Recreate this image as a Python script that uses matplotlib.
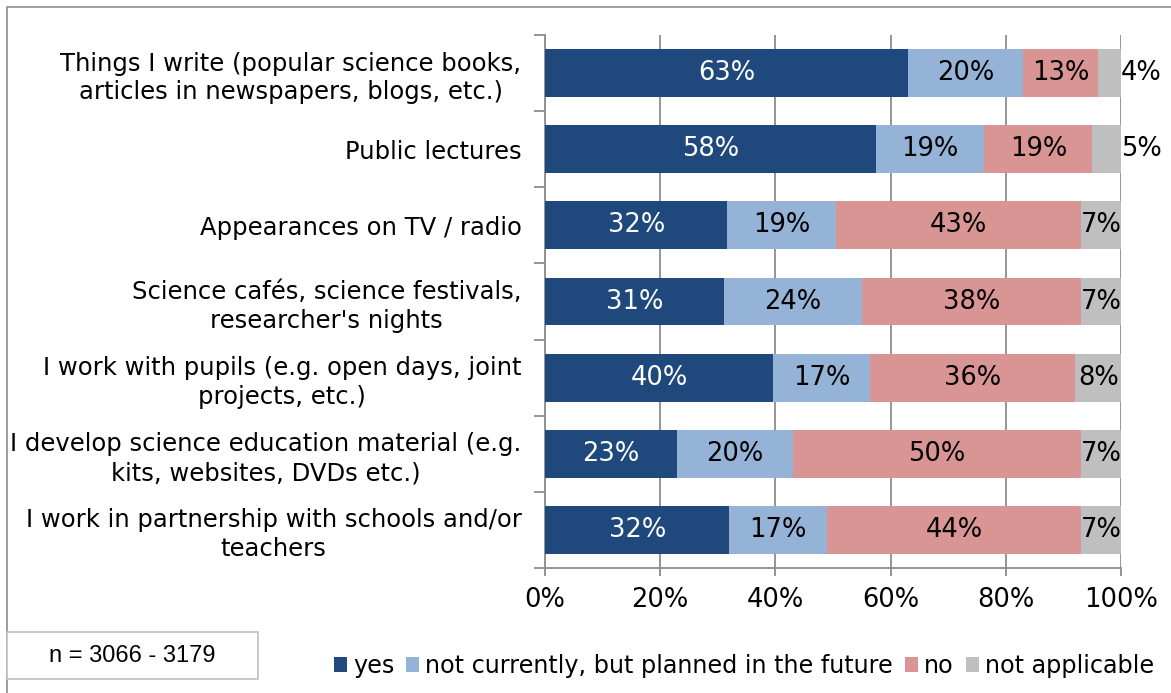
import matplotlib
matplotlib.use("Agg")
import matplotlib.pyplot as plt
from matplotlib.patches import Patch, Rectangle
import numpy as np

categories = [
    "Things I write (popular science books,\narticles in newspapers, blogs, etc.)",
    "Public lectures",
    "Appearances on TV / radio",
    "Science cafés, science festivals,\nresearcher's nights",
    "I work with pupils (e.g. open days, joint\nprojects, etc.)",
    "I develop science education material (e.g.\nkits, websites, DVDs etc.)",
    "I work in partnership with schools and/or\nteachers",
]
series_names = ["yes", "not currently, but planned in the future", "no", "not applicable"]
yes = [63, 58, 32, 31, 40, 23, 32]
planned = [20, 19, 19, 24, 17, 20, 17]
no = [13, 19, 43, 38, 36, 50, 44]
not_applicable = [4, 5, 7, 7, 8, 7, 7]
colors = ["#1F497D", "#95B3D7", "#D99594", "#BFBFBF"]
text_colors = ["white", "black", "black", "black"]
x_ticks = [0, 20, 40, 60, 80, 100]
note = "n = 3066 - 3179"

plt.rcParams['font.family'] = ["DejaVu Sans"]
W, H = 1171, 693
fig = plt.figure(figsize=(W/100, H/100), dpi=100)
# outer frame
fig.patches.append(Rectangle((7/W, -0.1), 1.2, (H-7)/H + 0.1, transform=fig.transFigure,
                             fill=False, edgecolor="#8C8C8C", linewidth=1.2, zorder=0))
ax = fig.add_axes([545/W, (H-568)/H, 576/W, 533/H])

data = np.array([yes, planned, no, not_applicable], dtype=float)
totals = data.sum(axis=0)
norm = data / totals * 100
n = len(categories)
y = np.arange(n)
left = np.zeros(n)
for i in range(4):
    ax.barh(y, norm[i], left=left, height=0.63, color=colors[i], zorder=3, label=series_names[i])
    for j in range(n):
        v = data[i, j]
        w = norm[i, j]
        if i == 3 and w < 6:
            ax.text(100, y[j], f"{v:.0f}%", ha="left", va="center", fontsize=18.5,
                    color=text_colors[i], zorder=4)
        else:
            ax.text(left[j] + w / 2, y[j], f"{v:.0f}%", ha="center", va="center", fontsize=18.5,
                    color=text_colors[i], zorder=4)
    left = left + norm[i]

ax.set_xlim(0, 100)
ax.set_ylim(n - 0.5, -0.5)
ax.set_xticks(x_ticks)
ax.set_xticklabels([f"{t}%" for t in x_ticks], fontsize=18.5)
ax.xaxis.grid(True, color="#8C8C8C", linewidth=1.3, zorder=0)
ax.set_axisbelow(True)
ax.set_yticks(y)
ax.set_yticklabels(categories, fontsize=17.5, linespacing=1.25)
ax.set_yticks(np.arange(n + 1) - 0.5, minor=True)
ax.tick_params(axis="y", which="major", length=0, pad=17)
ax.tick_params(axis="y", which="minor", length=8, color="#8C8C8C", width=1.3)
ax.tick_params(axis="x", length=6, color="#8C8C8C", width=1.3, pad=8)
for lbl in ax.get_yticklabels():
    lbl.set_horizontalalignment("right")
    lbl.set_multialignment("center")
for s in ["top", "right"]:
    ax.spines[s].set_visible(False)
for s in ["left", "bottom"]:
    ax.spines[s].set_color("#8C8C8C")
    ax.spines[s].set_linewidth(1.3)

handles = [Patch(facecolor=c, edgecolor="none") for c in colors]
fig.legend(handles, series_names, loc="center", bbox_to_anchor=(744/W, 1 - 666/H),
           ncol=4, frameon=False, fontsize=17.2, handlelength=0.55, handleheight=0.55,
           handletextpad=0.25, columnspacing=0.5)

fig.patches.append(Rectangle((7/W, 1 - 679/H), 251/W, 47/H, transform=fig.transFigure,
                             facecolor="white", edgecolor="#BFBFBF", linewidth=1.2, zorder=1))
fig.text(132/W, 1 - 656/H, note, ha="center", va="center", fontsize=17,
         family="Liberation Sans", zorder=2)

fig.savefig("out.png", dpi=100)
